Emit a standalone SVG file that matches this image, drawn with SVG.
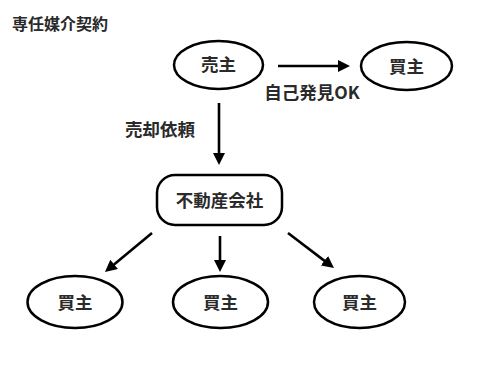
<svg xmlns="http://www.w3.org/2000/svg" width="500" height="380" viewBox="0 0 500 380">
  <style>
    .shape { fill: #ffffff; stroke: #000000; stroke-width: 2.5; }
    .label { font-family: "Noto Sans CJK JP", "Noto Sans", sans-serif; font-weight: bold; fill: #2a2a2a; text-anchor: middle; dominant-baseline: central; }
    .node { font-size: 17.5px; }
    .edge { stroke: #000000; stroke-width: 2.6; fill: none; marker-end: url(#arrow); }
  </style>
  <defs>
    <marker id="arrow" markerUnits="userSpaceOnUse" markerWidth="12" markerHeight="12" viewBox="0 0 12 12" refX="8" refY="6" orient="auto">
      <path d="M0,0 L12,6 L0,12 z" fill="#000000"/>
    </marker>
  </defs>
  <rect width="500" height="380" fill="#ffffff"/>
  <text class="label" x="12" y="23" style="text-anchor:start;font-size:16px">専任媒介契約</text>

  <g id="connectors">
    <line class="edge" x1="278" y1="66" x2="346" y2="66"/>
    <line class="edge" x1="219" y1="103" x2="219" y2="161"/>
    <line class="edge" x1="152" y1="233" x2="108" y2="269.5"/>
    <line class="edge" x1="220" y1="236" x2="220" y2="268"/>
    <line class="edge" x1="288" y1="233" x2="330.8" y2="265.6"/>
    <text class="label node" x="312" y="91">自己発見OK</text>
    <text class="label node" x="160" y="128.5">売却依頼</text>
  </g>

  <g id="seller">
    <ellipse class="shape" cx="218.5" cy="65" rx="44.5" ry="24"/>
    <text class="label node" x="218.5" y="63">売主</text>
  </g>
  <g id="buyer-self">
    <ellipse class="shape" cx="406.5" cy="66" rx="45.5" ry="24"/>
    <text class="label node" x="406.5" y="65">買主</text>
  </g>
  <g id="agency">
    <rect class="shape" x="157" y="175" width="125" height="50" rx="18"/>
    <text class="label node" x="219.5" y="199">不動産会社</text>
  </g>
  <g id="buyer-1">
    <ellipse class="shape" cx="75" cy="302" rx="47.5" ry="26"/>
    <text class="label node" x="75" y="301">買主</text>
  </g>
  <g id="buyer-2">
    <ellipse class="shape" cx="220.5" cy="302" rx="47.5" ry="26"/>
    <text class="label node" x="220.5" y="301">買主</text>
  </g>
  <g id="buyer-3">
    <ellipse class="shape" cx="359.5" cy="302" rx="45.5" ry="26"/>
    <text class="label node" x="359.5" y="301">買主</text>
  </g>
</svg>
